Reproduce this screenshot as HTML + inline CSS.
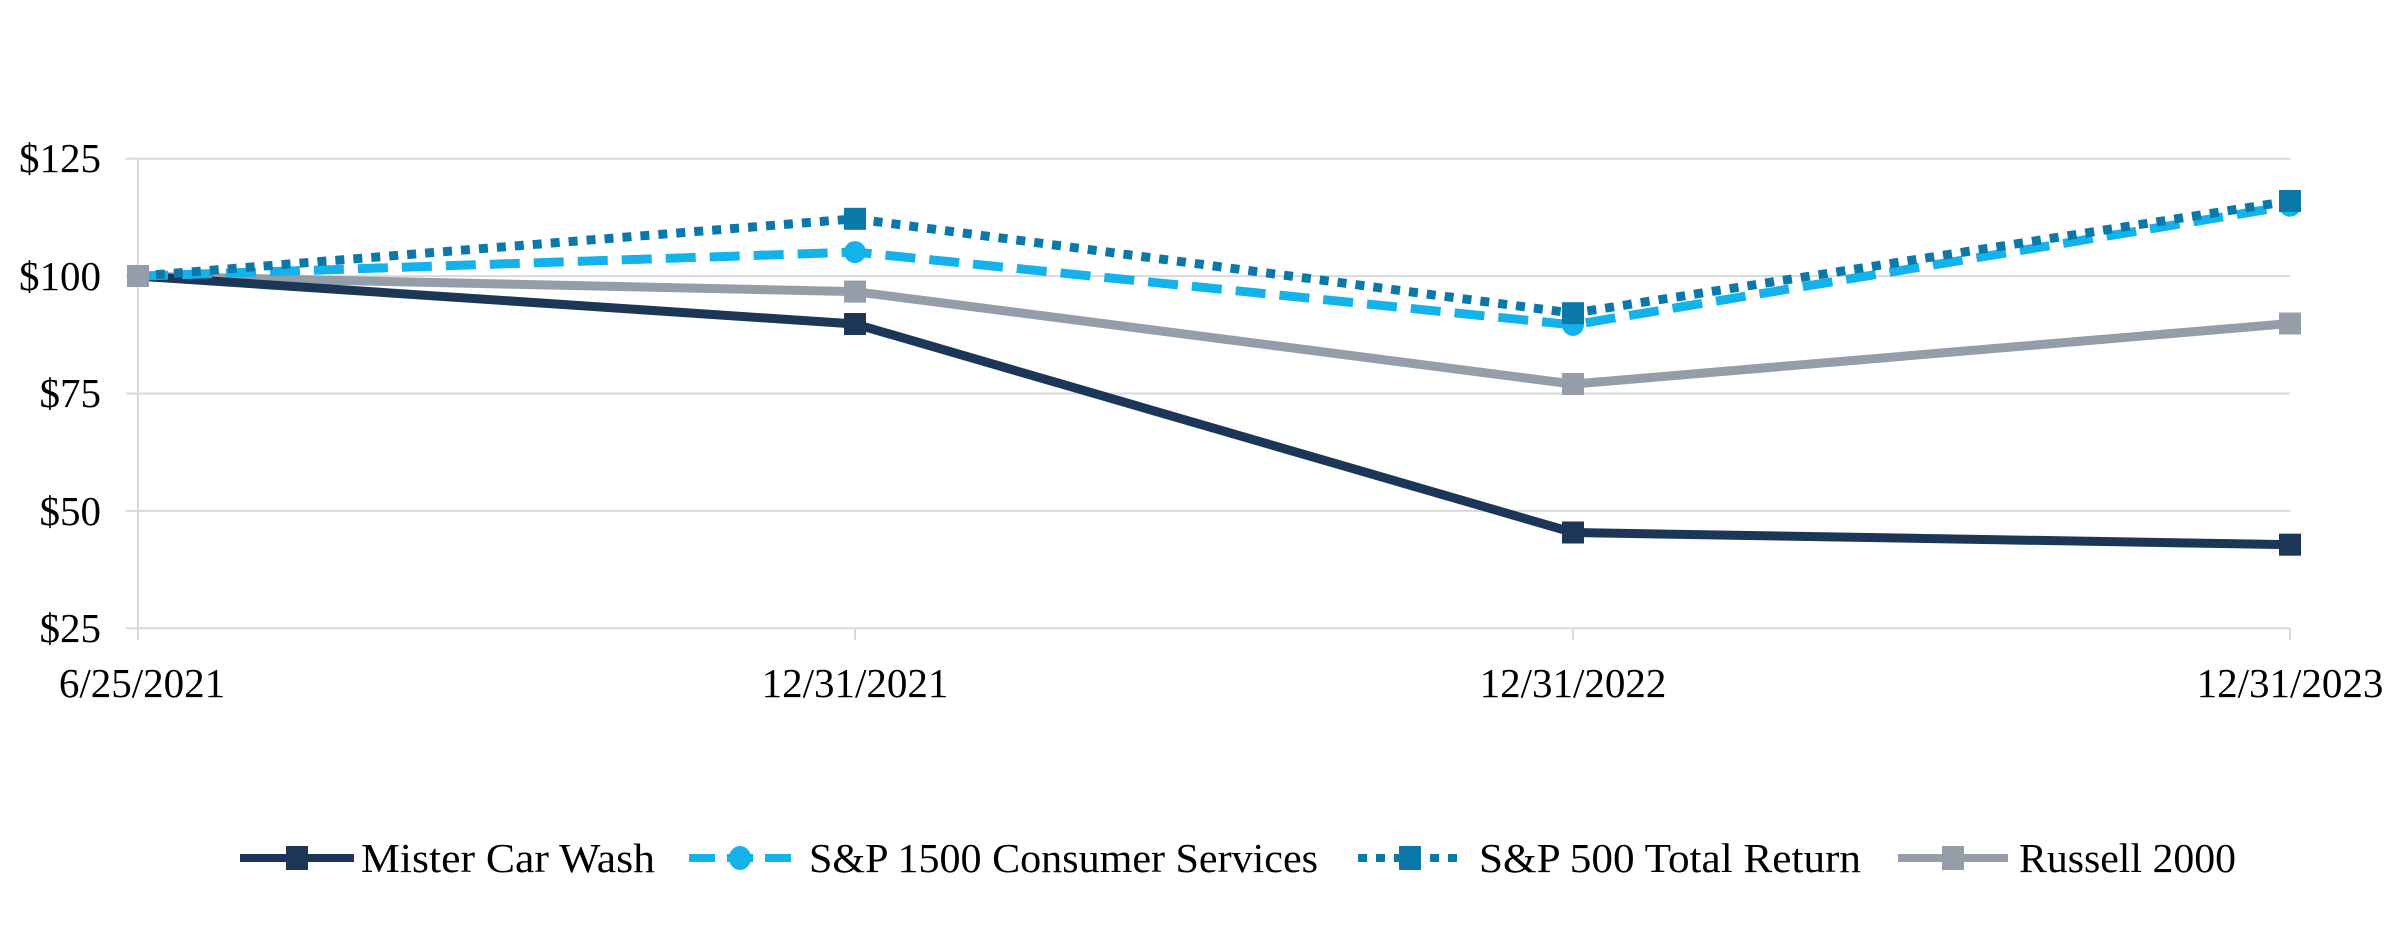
<!DOCTYPE html>
<html><head><meta charset="utf-8"><style>
html,body{margin:0;padding:0;background:#fff;}
svg{display:block;}
text{font-family:"Liberation Serif","Times New Roman",serif;fill:#000;}
</style></head><body>
<svg width="2388" height="944" viewBox="0 0 2388 944" xmlns="http://www.w3.org/2000/svg">
<g stroke="#d9d9d9" stroke-width="2">
<line x1="138" y1="158.7" x2="2290" y2="158.7"/>
<line x1="138" y1="276.1" x2="2290" y2="276.1"/>
<line x1="138" y1="393.5" x2="2290" y2="393.5"/>
<line x1="138" y1="510.9" x2="2290" y2="510.9"/>
<line x1="138" y1="628.3" x2="2290" y2="628.3"/>
<line x1="138" y1="158.7" x2="138" y2="640"/>
<line x1="855" y1="628" x2="855" y2="640"/>
<line x1="1573" y1="628" x2="1573" y2="640"/>
<line x1="2290" y1="628" x2="2290" y2="640"/>
<line x1="126" y1="158.7" x2="138" y2="158.7"/>
<line x1="126" y1="276.1" x2="138" y2="276.1"/>
<line x1="126" y1="393.5" x2="138" y2="393.5"/>
<line x1="126" y1="510.9" x2="138" y2="510.9"/>
<line x1="126" y1="628.3" x2="138" y2="628.3"/>
</g>
<g font-size="41" text-anchor="end">
<text x="101" y="172">$125</text>
<text x="101" y="290">$100</text>
<text x="101" y="407">$75</text>
<text x="101" y="525">$50</text>
<text x="101" y="642">$25</text>
</g>
<g font-size="41" text-anchor="middle">
<text x="142" y="697">6/25/2021</text>
<text x="855" y="697">12/31/2021</text>
<text x="1573" y="697">12/31/2022</text>
<text x="2290" y="697">12/31/2023</text>
</g>
<polyline fill="none" stroke="#959da8" stroke-width="9" points="138,276.1 855,291.6 1573,384.1 2290,323.5"/>
<g fill="#959da8">
<rect x="127" y="265" width="22" height="22"/><rect x="844" y="280.6" width="22" height="22"/><rect x="1562" y="373" width="22" height="22"/><rect x="2279" y="312.5" width="22" height="22"/>
</g>
<polyline fill="none" stroke="#1b3657" stroke-width="9" points="138,276.1 855,324 1573,532.5 2290,544.7"/>
<g fill="#1b3657">
<rect x="844" y="313" width="22" height="22"/><rect x="1562" y="521.5" width="22" height="22"/><rect x="2279" y="533.7" width="22" height="22"/>
</g>
<polyline fill="none" stroke="#14b2ea" stroke-width="9" stroke-dasharray="30,14" points="138,276.1 855,252.1 1573,324.9 2290,205.7"/>
<g fill="#14b2ea">
<ellipse cx="855" cy="252.1" rx="11" ry="11"/><ellipse cx="1573" cy="324.9" rx="11" ry="11"/><ellipse cx="2290" cy="205.7" rx="11" ry="11"/>
</g>
<polyline fill="none" stroke="#0a79aa" stroke-width="9" stroke-dasharray="9,9" points="138,276.1 855,218.8 1573,313.2 2290,201"/>
<g fill="#0a79aa">
<rect x="844" y="207.8" width="22" height="22"/><rect x="1562" y="302.2" width="22" height="22"/><rect x="2279" y="190" width="22" height="22"/>
</g>
<rect x="127" y="265" width="22" height="22" fill="#959da8"/>
<g font-size="41">
<line x1="240" y1="858" x2="354" y2="858" stroke="#1b3657" stroke-width="8"/>
<rect x="286" y="846" width="22" height="24" fill="#1b3657"/>
<text x="361" y="872" textLength="294" lengthAdjust="spacingAndGlyphs">Mister Car Wash</text>
<line x1="689" y1="858" x2="792" y2="858" stroke="#14b2ea" stroke-width="8" stroke-dasharray="26,12"/>
<ellipse cx="740" cy="858" rx="11" ry="12" fill="#14b2ea"/>
<text x="809" y="872" textLength="509" lengthAdjust="spacingAndGlyphs">S&amp;P 1500 Consumer Services</text>
<line x1="1358" y1="858" x2="1462" y2="858" stroke="#0a79aa" stroke-width="8" stroke-dasharray="9,9"/>
<rect x="1399" y="846" width="22" height="24" fill="#0a79aa"/>
<text x="1479" y="872" textLength="382" lengthAdjust="spacingAndGlyphs">S&amp;P 500 Total Return</text>
<line x1="1898" y1="858" x2="2008" y2="858" stroke="#959da8" stroke-width="8"/>
<rect x="1942" y="846" width="22" height="24" fill="#959da8"/>
<text x="2019" y="872" textLength="217" lengthAdjust="spacingAndGlyphs">Russell 2000</text>
</g>
</svg>
</body></html>
